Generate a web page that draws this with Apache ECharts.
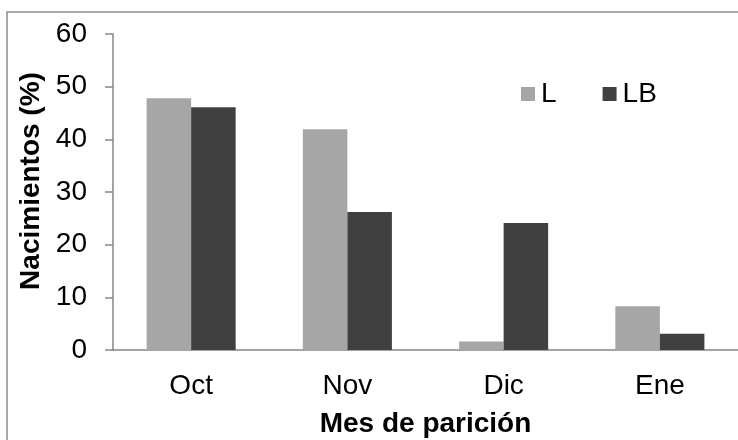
<!DOCTYPE html>
<html>
<head>
<meta charset="utf-8">
<script src="https://cdn.jsdelivr.net/npm/echarts@6/dist/echarts.min.js"></script>
<style>
  html, body { margin: 0; padding: 0; background: #fff; }
  #chart { width: 738px; height: 440px; }
</style>
</head>
<body>
<div id="chart"></div>
<script>
// Birth distribution by calving month, two groups
const months = ['Oct', 'Nov', 'Dic', 'Ene'];
const seriesL = [47.8, 41.9, 1.6, 8.3];
const seriesLB = [46.1, 26.2, 24.1, 3.1];
const yTicks = { min: 0, max: 60, interval: 10 };

const axisGray = '#868686';
const font = 'Liberation Sans, Arial, sans-serif';

const chart = echarts.init(document.getElementById('chart'), null, { renderer: 'canvas' });
chart.setOption({
  backgroundColor: '#ffffff',
  animation: false,
  graphic: [{
    type: 'rect',
    shape: { x: 7, y: 12, width: 800, height: 500 },
    style: { fill: 'none', stroke: '#8c8c8c', lineWidth: 1.5 },
    silent: true
  }],
  legend: {
    data: ['L', 'LB'],
    left: 516,
    top: 75,
    icon: 'rect',
    itemWidth: 14,
    itemHeight: 14,
    itemGap: 46,
    textStyle: { fontFamily: font, fontSize: 28, color: '#000', padding: [0, 0, 0, 1] }
  },
  grid: {
    left: 113, right: 0, top: 34, bottom: 90,
    containLabel: false,
    outerBoundsMode: 'none'
  },
  xAxis: {
    type: 'category',
    data: months,
    name: 'Mes de parición',
    nameLocation: 'middle',
    nameGap: 60,
    nameTextStyle: { fontFamily: font, fontSize: 28, fontWeight: 'bold', color: '#000' },
    axisLine: { lineStyle: { color: axisGray, width: 1.5 } },
    axisTick: { length: 8, lineStyle: { color: axisGray, width: 1.5 } },
    axisLabel: { fontFamily: font, fontSize: 28, color: '#000', margin: 22 }
  },
  yAxis: {
    type: 'value',
    min: yTicks.min,
    max: yTicks.max,
    interval: yTicks.interval,
    name: 'Nacimientos (%)',
    nameLocation: 'middle',
    nameGap: 63,
    nameRotate: 90,
    nameTextStyle: {
      fontFamily: font, fontSize: 28, fontWeight: 'bold', color: '#000',
      padding: [0, 0, 0, 22]
    },
    splitLine: { show: false },
    axisLine: { show: true, lineStyle: { color: axisGray, width: 1.5 } },
    axisTick: { show: true, length: 8, lineStyle: { color: axisGray, width: 1.5 } },
    axisLabel: { fontFamily: font, fontSize: 28, color: '#000', margin: 26 }
  },
  series: [
    {
      name: 'L',
      type: 'bar',
      data: seriesL,
      barGap: '0%',
      barCategoryGap: '43%',
      itemStyle: { color: '#a6a6a6' }
    },
    {
      name: 'LB',
      type: 'bar',
      data: seriesLB,
      barGap: '0%',
      barCategoryGap: '43%',
      itemStyle: { color: '#404040' }
    }
  ]
});
</script>
</body>
</html>
